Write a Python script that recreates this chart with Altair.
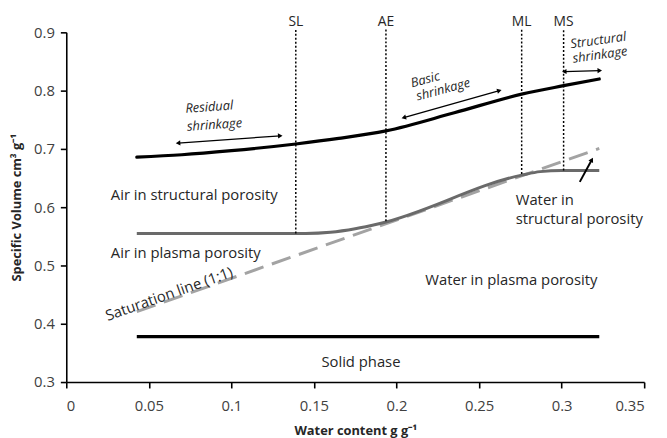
import math
import altair as alt
import pandas as pd

FONT = "Open Sans"
W, H = 585, 354
XMAX, YMIN, YMAX = 0.35, 0.3, 0.9

# ---- series -------------------------------------------------------------
total_x = [0.0427, 0.07, 0.10, 0.139, 0.165, 0.1936, 0.235, 0.2758, 0.3012, 0.3228]
total_y = [0.686, 0.690, 0.697, 0.7085, 0.718, 0.731, 0.762, 0.794, 0.8085, 0.820]

plasma_x = [0.0427, 0.10, 0.145, 0.16, 0.175, 0.19, 0.2758, 0.287, 0.30, 0.3228]
plasma_y = [0.555, 0.555, 0.555, 0.557, 0.563, 0.572, 0.655, 0.661, 0.663, 0.663]

sat_x = [0.0427, 0.3228]
sat_y = [0.4207, 0.7008]

solid_x = [0.0427, 0.3228]
solid_y = [0.378, 0.378]

# ---- characteristic points (vertical dotted lines) ----------------------
pt_labels = ["SL", "AE", "ML", "MS"]
pt_x = [0.139, 0.1936, 0.2758, 0.3012]
pt_ybot = [0.555, 0.576, 0.657, 0.663]
pt_ytop = [0.905, 0.905, 0.905, 0.905]
pt_label_y = [0.917, 0.917, 0.917, 0.917]

# ---- arrows --------------------------------------------------------------
arr_x1 = [0.0677, 0.2044, 0.3016, 0.311]
arr_y1 = [0.710, 0.7536, 0.8327, 0.6434]
arr_x2 = [0.1296, 0.2623, 0.3231, 0.3183]
arr_y2 = [0.7225, 0.800, 0.8344, 0.6814]
arr_double = [True, True, True, False]
arr_width = [1.3, 1.3, 1.3, 2.0]

# ---- annotations ---------------------------------------------------------
ann_text = ["Air in structural porosity", "Air in plasma porosity",
            "Water in plasma porosity", "Solid phase", "Water in",
            "structural porosity"]
ann_x = [0.027, 0.027, 0.2174, 0.1545, 0.2722, 0.2722]
ann_y = [0.621, 0.522, 0.475, 0.334, 0.612, 0.580]

ital_text = ["Residual", "shrinkage", "Basic", "shrinkage", "Structural", "shrinkage"]
ital_x = [0.0866, 0.0898, 0.2174, 0.2283, 0.3222, 0.3232]
ital_y = [0.7717, 0.7411, 0.8186, 0.8017, 0.886, 0.861]
ital_angle = [356, 356, 345, 345, 352, 352]

sat_label = ["Saturation line (1:1)"]
sat_label_x = [0.0623]
sat_label_y = [0.451]
sat_label_angle = [340.5]

# ---- build tables --------------------------------------------------------
xs = alt.Scale(domain=[0, XMAX], nice=False, zero=False)
ys = alt.Scale(domain=[YMIN, YMAX], nice=False, zero=False)


def ex(field):
    return alt.X(field, type="quantitative", scale=xs)


def ey(field):
    return alt.Y(field, type="quantitative", scale=ys)


def line_df(x, y):
    return pd.DataFrame({"x": x, "y": y})


X = alt.X("x:Q", scale=xs, title="Water content g g\u207b\u00b9",
          axis=alt.Axis(values=[0, 0.05, 0.1, 0.15, 0.2, 0.25, 0.3, 0.35], format="~g"))
Y = alt.Y("y:Q", scale=ys, title="Specific Volume cm\u00b3 g\u207b\u00b9",
          axis=alt.Axis(values=[0.3, 0.4, 0.5, 0.6, 0.7, 0.8, 0.9], format=".1f"))

total = alt.Chart(line_df(total_x, total_y)).mark_line(
    color="#000000", strokeWidth=3.2, interpolate="monotone", strokeCap="round"
).encode(x=X, y=Y)

plasma = alt.Chart(line_df(plasma_x, plasma_y)).mark_line(
    color="#6a6a6a", strokeWidth=3, interpolate="monotone"
).encode(x=ex("x"), y=ey("y"))

sat = alt.Chart(line_df(sat_x, sat_y)).mark_line(
    color="#a3a3a3", strokeWidth=3, strokeDash=[20, 9]
).encode(x=ex("x"), y=ey("y"))

solid = alt.Chart(line_df(solid_x, solid_y)).mark_line(
    color="#000000", strokeWidth=3.2
).encode(x=ex("x"), y=ey("y"))

pts = pd.DataFrame({"lab": pt_labels, "x": pt_x, "yb": pt_ybot, "yt": pt_ytop,
                    "ly": pt_label_y})
vlines = alt.Chart(pts).mark_rule(
    color="#000000", strokeWidth=1.5, strokeDash=[2, 2]
).encode(x=ex("x"), y=ey("yb"), y2="yt:Q")
vlabels = alt.Chart(pts).mark_text(
    font=FONT, fontSize=14, color="#262626", baseline="middle"
).encode(x=ex("x"), y=ey("ly"), text="lab:N")

# arrows: shafts and heads
arr = pd.DataFrame({"x1": arr_x1, "y1": arr_y1, "x2": arr_x2, "y2": arr_y2,
                    "w": arr_width})
shafts = alt.Chart(arr).mark_rule(color="#000000").encode(
    x=ex("x1"), y=ey("y1"), x2="x2:Q", y2="y2:Q",
    strokeWidth=alt.StrokeWidth("w:Q", scale=None))

sx, sy = W / XMAX, H / (YMAX - YMIN)
heads = []
for x1, y1, x2, y2, dbl in zip(arr_x1, arr_y1, arr_x2, arr_y2, arr_double):
    dx, dy = (x2 - x1) * sx, -(y2 - y1) * sy
    ang = math.degrees(math.atan2(dx, -dy)) % 360
    heads.append({"x": x2, "y": y2, "a": ang})
    if dbl:
        heads.append({"x": x1, "y": y1, "a": (ang + 180) % 360})
head_layer = alt.Chart(pd.DataFrame(heads)).mark_point(
    shape="triangle-up", filled=True, color="#000000", size=28, opacity=1
).encode(x=ex("x"), y=ey("y"), angle=alt.Angle("a:Q", scale=None))

ann = alt.Chart(pd.DataFrame({"t": ann_text, "x": ann_x, "y": ann_y})).mark_text(
    font=FONT, fontSize=15, color="#262626", align="left", baseline="middle"
).encode(x=ex("x"), y=ey("y"), text="t:N")

ital = alt.Chart(pd.DataFrame({"t": ital_text, "x": ital_x, "y": ital_y,
                               "a": ital_angle})).mark_text(
    font=FONT, fontSize=13, fontStyle="italic", color="#262626",
    align="center", baseline="middle"
).encode(x=ex("x"), y=ey("y"), text="t:N", angle=alt.Angle("a:Q", scale=None))

satlab = alt.Chart(pd.DataFrame({"t": sat_label, "x": sat_label_x, "y": sat_label_y,
                                 "a": sat_label_angle})).mark_text(
    font=FONT, fontSize=15, color="#262626", align="center", baseline="middle"
).encode(x=ex("x"), y=ey("y"), text="t:N", angle=alt.Angle("a:Q", scale=None))

chart = alt.layer(
    solid, sat, plasma, total, vlines, vlabels, shafts, head_layer, ann, ital, satlab
).properties(
    width=W, height=H,
    autosize=alt.AutoSizeParams(type="none"),
    padding={"left": 59, "top": 22, "right": 15, "bottom": 54},
).configure_view(stroke=None).configure_axis(
    grid=False, domainColor="#000000", domainWidth=1.6, tickColor="#000000",
    tickWidth=1.6, tickSize=6, labelFont=FONT, labelFontSize=15,
    labelColor="#404040", labelPadding=6, titleFont=FONT, titleFontSize=13,
    titleFontWeight="bold", titleColor="#262626",
).configure_axisY(titlePadding=10).configure_axisX(titlePadding=11, labelPadding=11)

chart.save("out.html", embed_options={"renderer": "svg", "actions": False})
